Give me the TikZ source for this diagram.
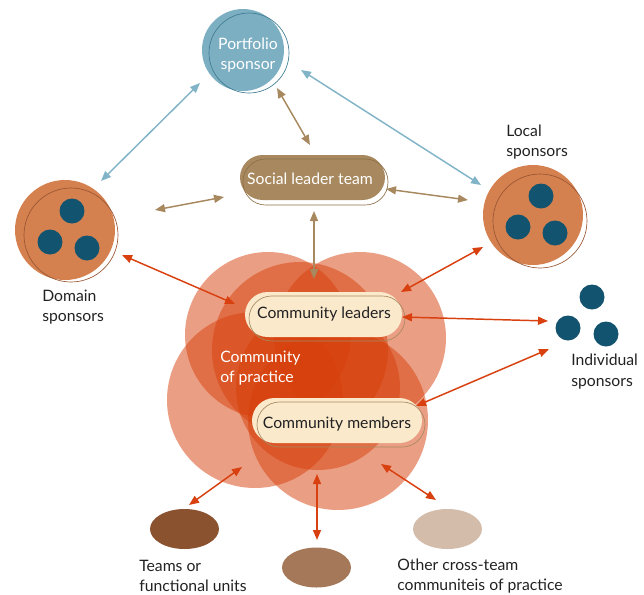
\documentclass[tikz,border=0pt]{standalone}
\usepackage{fontspec}
\setmainfont{Lato}
\usetikzlibrary{arrows.meta}
\definecolor{portfill}{HTML}{7DAFC3}
\definecolor{portline}{HTML}{3F7C92}
\definecolor{socfill}{HTML}{A8895F}
\definecolor{socline}{HTML}{8E7048}
\definecolor{sponsfill}{HTML}{D4814F}
\definecolor{sponsline}{HTML}{9A5634}
\definecolor{dotcol}{HTML}{12536F}
\definecolor{pillfill}{HTML}{FBE9CC}
\definecolor{pillline}{HTML}{A8895F}
\definecolor{blobcol}{HTML}{D63F0A}
\definecolor{redarr}{HTML}{D9400F}
\definecolor{bluearr}{HTML}{82B4C8}
\definecolor{brownarr}{HTML}{A8895F}
\definecolor{teamcol}{HTML}{8B5230}
\definecolor{midcol}{HTML}{A47858}
\definecolor{othercol}{HTML}{D3BCAA}
\definecolor{txt}{HTML}{222222}
\tikzset{
  biarrow/.style={{Triangle[length=7.5pt,width=6pt]}-{Triangle[length=7.5pt,width=6pt]}, line width=1.1pt},
  blob/.style={fill=blobcol, fill opacity=0.5},
  lbl/.style={text=txt, align=left, inner sep=0pt, anchor=west, font=\fontsize{11.8}{15.5}\selectfont},
  dot/.style={fill=dotcol},
  pilltext/.style={text=txt, inner sep=0pt},
}
\begin{document}
\begin{tikzpicture}[x=0.75pt,y=-0.75pt, font=\fontsize{11.8}{15}\selectfont]
\useasboundingbox (0,0) rectangle (644,594);

% community of practice blob
\fill[blob] (268,335) circle [radius=83];
\fill[blob] (360,338) circle [radius=86];
\fill[blob] (255,400) circle [radius=88];
\fill[blob] (338,420) circle [radius=90];
\fill[blob] (300,350) circle [radius=88];
\fill[blob] (318,388) circle [radius=82];

% portfolio sponsor
\fill[portfill] (243,50) circle [radius=41];
\draw[portline, line width=0.5pt] (249,53) circle [radius=40];
\node[text=white, align=center, inner sep=0pt] (port) at (248,55) {Portfolio\\sponsor};

% social leader team
\fill[socfill, rounded corners=17pt] (240,155) rectangle (385,200);
\draw[socline, line width=0.5pt, rounded corners=17pt] (243,159) rectangle (388,205);
\node[text=white, inner sep=0pt] (soc) at (310,179) {Social leader team};

% domain sponsors
\fill[sponsfill] (65,230) circle [radius=50];
\draw[sponsline, line width=0.5pt] (71,235) circle [radius=47];
\fill[dot] (72,211) circle [radius=12.5];
\fill[dot] (50,242) circle [radius=12.5];
\fill[dot] (87,248) circle [radius=12.5];
\node[lbl] (domlbl) at (42,307) {Domain\\sponsors};

% local sponsors
\fill[sponsfill] (533,215) circle [radius=50];
\draw[sponsline, line width=0.5pt] (540,221) circle [radius=47];
\fill[dot] (541,196) circle [radius=12.5];
\fill[dot] (518,227) circle [radius=12.5];
\fill[dot] (555,233) circle [radius=12.5];
\node[lbl] (loclbl) at (506,142) {Local\\sponsors};

% individual sponsors
\fill[dot] (592,297) circle [radius=12.5];
\fill[dot] (568,328) circle [radius=12.5];
\fill[dot] (606,334) circle [radius=12.5];
\node[lbl] (indlbl) at (571,371.5) {Individual\\sponsors};

% pills
\fill[pillfill, rounded corners=17pt] (245,292) rectangle (402,337);
\draw[pillline, line width=0.5pt, rounded corners=17pt] (249,296) rectangle (405,341);
\node[pilltext] (cl) at (324,314) {Community leaders};

\fill[pillfill, rounded corners=17pt] (252,398) rectangle (422,443);
\draw[pillline, line width=0.5pt, rounded corners=17pt] (257,402) rectangle (425,447);
\node[pilltext] (cm) at (337,424) {Community members};

\node[lbl, text=white] (cop) at (220,368) {Community\\of practice};

% bottom ellipses
\fill[teamcol] (184.5,529) ellipse [x radius=34.5, y radius=20];
\fill[midcol] (316.5,567.5) ellipse [x radius=34.5, y radius=20];
\fill[othercol] (447.5,529) ellipse [x radius=34.5, y radius=20];
\node[lbl] (teamlbl) at (139,576) {Teams or\\functional units};
\node[lbl] (otherlbl) at (397,576) {Other cross-team\\communiteis of practice};

% connector end points
\coordinate (pA) at (200,83);
\coordinate (dA) at (101,181);
\coordinate (pB) at (301,70);
\coordinate (lB) at (481,185);
\coordinate (pC) at (277,88);
\coordinate (sC) at (310,145);
\coordinate (dD) at (155,210);
\coordinate (sD) at (224,197);
\coordinate (sE) at (386,189);
\coordinate (lE) at (468,200);
\coordinate (sF) at (314,211);
\coordinate (cF) at (314,279);
\coordinate (dG) at (122,255);
\coordinate (cG) at (235,304);
\coordinate (cH) at (401,292);
\coordinate (lH) at (483,247);
\coordinate (cI) at (402,317);
\coordinate (iI) at (548,321);
\coordinate (cJ) at (416,406);
\coordinate (iJ) at (549,349);
\coordinate (bK) at (242,467);
\coordinate (tK) at (189,505);
\coordinate (bL) at (317,474);
\coordinate (mL) at (317,540);
\coordinate (bM) at (381,464);
\coordinate (oM) at (436,500);

\draw[biarrow, bluearr] (pA) -- (dA);
\draw[biarrow, bluearr] (pB) -- (lB);
\draw[biarrow, brownarr] (pC) -- (sC);
\draw[biarrow, brownarr] (dD) -- (sD);
\draw[biarrow, brownarr] (sE) -- (lE);
\draw[biarrow, brownarr] (sF) -- (cF);
\draw[biarrow, redarr] (dG) -- (cG);
\draw[biarrow, redarr] (cH) -- (lH);
\draw[biarrow, redarr] (cI) -- (iI);
\draw[biarrow, redarr] (cJ) -- (iJ);
\draw[biarrow, redarr] (bK) -- (tK);
\draw[biarrow, redarr] (bL) -- (mL);
\draw[biarrow, redarr] (bM) -- (oM);
\end{tikzpicture}
\end{document}
